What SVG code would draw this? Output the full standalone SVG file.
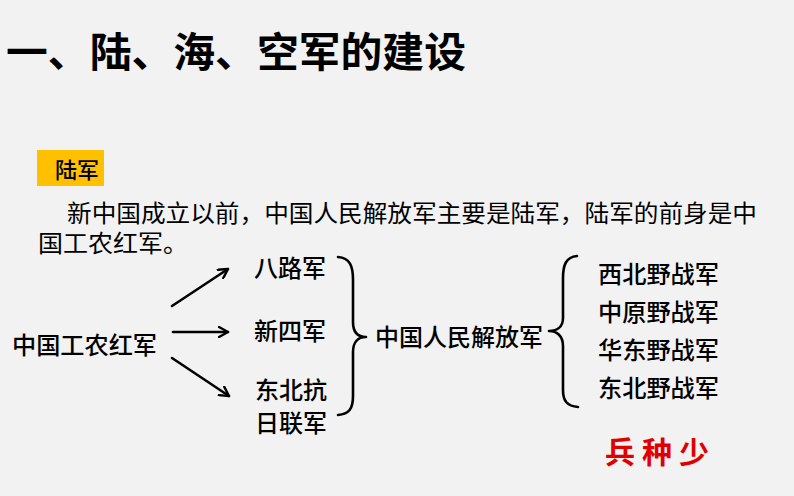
<svg xmlns="http://www.w3.org/2000/svg" width="794" height="496" viewBox="0 0 794 496">
<defs>
<style>
.t{font-family:"Noto Sans CJK SC","Noto Sans",sans-serif;fill:#000}
.d{font-size:24px;font-weight:500}
.p{font-size:23.5px}
.ln{fill:none;stroke:#000;stroke-width:2.6;stroke-linecap:round;stroke-linejoin:round}
</style>
<marker id="ah" viewBox="0 0 12 12" refX="10" refY="6" markerWidth="12" markerHeight="12" markerUnits="userSpaceOnUse" orient="auto">
<path d="M1,1 L10,6 L1,11" fill="none" stroke="#000" stroke-width="2.4" stroke-linecap="round" stroke-linejoin="round"/>
</marker>
</defs>
<rect width="794" height="496" fill="#f2f2f2"/>
<text class="t" x="6" y="67" font-size="41" font-weight="bold" textLength="460" lengthAdjust="spacingAndGlyphs">一、陆、海、空军的建设</text>
<g id="tag">
<rect x="37" y="150" width="67" height="36" fill="#ffc000"/>
<text class="t" x="55" y="178" font-size="22" font-weight="500">陆军</text>
</g>
<text class="t p" x="67" y="222" textLength="690" lengthAdjust="spacingAndGlyphs">新中国成立以前，中国人民解放军主要是陆军，陆军的前身是中</text>
<text class="t p" x="38" y="252" textLength="150" lengthAdjust="spacingAndGlyphs">国工农红军。</text>
<g id="connectors">
<line class="ln" x1="172" y1="306" x2="228" y2="269" marker-end="url(#ah)"/>
<line class="ln" x1="173" y1="332" x2="228" y2="332" marker-end="url(#ah)"/>
<line class="ln" x1="172" y1="358" x2="229" y2="396" marker-end="url(#ah)"/>
<path class="ln" d="M338,257 C350,258 353,266 353,280 L353,322 C353,333 358,337 366,337 C358,337 353,342 353,352 L353,396 C353,409 349,414 338,415"/>
<path class="ln" d="M577,256 C566,257 563,265 563,278 L563,318 C563,327 557,331 549,331 C557,331 563,336 563,346 L563,390 C563,401 567,406 578,407"/>
</g>
<g id="n-red"><text class="t d" x="12" y="354" textLength="145" lengthAdjust="spacingAndGlyphs">中国工农红军</text></g>
<g id="n-8"><text class="t d" x="254" y="277">八路军</text></g>
<g id="n-n4"><text class="t d" x="254" y="340">新四军</text></g>
<g id="n-db"><text class="t d" x="255" y="399">东北抗</text><text class="t d" x="255" y="432">日联军</text></g>
<g id="n-pla"><text class="t d" x="375" y="346" textLength="168" lengthAdjust="spacingAndGlyphs">中国人民解放军</text></g>
<g id="n-xb"><text class="t d" x="598" y="283" textLength="121" lengthAdjust="spacingAndGlyphs">西北野战军</text></g>
<g id="n-zy"><text class="t d" x="598" y="321" textLength="121" lengthAdjust="spacingAndGlyphs">中原野战军</text></g>
<g id="n-hd"><text class="t d" x="598" y="359" textLength="121" lengthAdjust="spacingAndGlyphs">华东野战军</text></g>
<g id="n-dbz"><text class="t d" x="598" y="397" textLength="121" lengthAdjust="spacingAndGlyphs">东北野战军</text></g>
<g id="note"><text x="605" y="463" font-family="Noto Sans CJK SC,sans-serif" font-size="30" font-weight="bold" fill="#e00000" textLength="104" lengthAdjust="spacing">兵种少</text></g>
</svg>
